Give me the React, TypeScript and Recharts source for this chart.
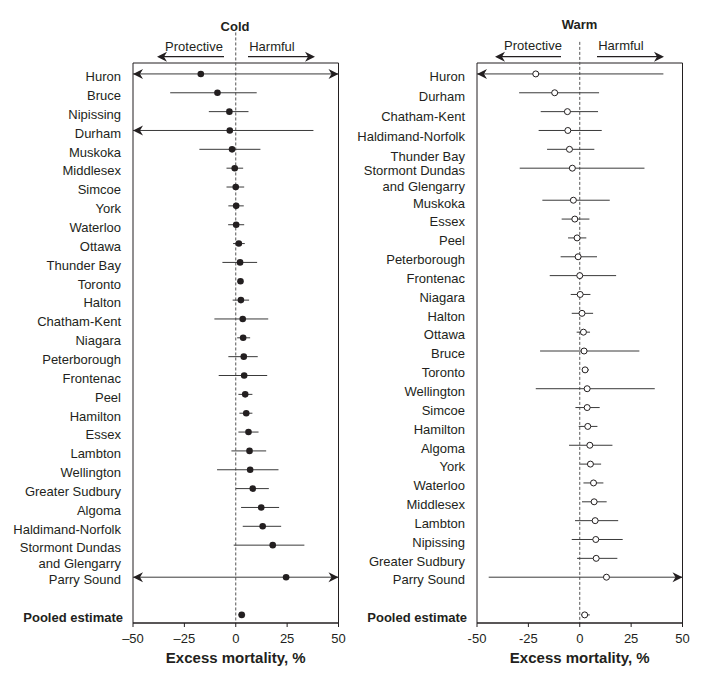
/** Forest plot — excess mortality by Ontario region, cold vs warm */
import { ScatterChart, Scatter, ErrorBar, XAxis, YAxis, ReferenceLine, ReferenceArea, Label } from 'recharts'

const FONT = '"Liberation Sans", Arial, Helvetica, sans-serif'
const INK = '#231f20'
const LINE = '#3a3a3a'

// values beyond ±50 are off-scale and drawn as arrows
const coldRegions = [
  'Huron', 'Bruce', 'Nipissing', 'Durham', 'Muskoka', 'Middlesex', 'Simcoe', 'York', 'Waterloo',
  'Ottawa', 'Thunder Bay', 'Toronto', 'Halton', 'Chatham-Kent', 'Niagara', 'Peterborough',
  'Frontenac', 'Peel', 'Hamilton', 'Essex', 'Lambton', 'Wellington', 'Greater Sudbury', 'Algoma',
  'Haldimand-Norfolk', 'Stormont Dundas\nand Glengarry', 'Parry Sound', 'Pooled estimate',
]
const coldEstimate = [
  -17.0, -8.9, -3.1, -2.9, -1.8, -0.5, 0.0, 0.2, 0.2, 1.5, 2.1, 2.3, 2.5, 3.4, 3.6, 3.9,
  4.1, 4.6, 5.1, 6.2, 6.7, 7.0, 8.3, 12.4, 13.1, 18.0, 24.5, 2.9,
]
const coldLower = [
  -60, -31.9, -13.1, -60, -17.7, -4.5, -4.5, -3.6, -3.7, -1.3, -6.5, 1.3, -1.5, -10.4, 0.7, -3.6,
  -8.3, 1.3, 1.8, 1.3, -2.1, -9.1, 0.0, 2.6, 3.4, -1.0, -60, 1.2,
]
const coldUpper = [
  60, 10.2, 6.2, 37.8, 12.0, 3.6, 4.1, 3.9, 4.1, 4.4, 10.4, 3.5, 6.5, 15.8, 7.0, 10.7,
  15.3, 8.1, 8.1, 11.1, 14.8, 20.8, 16.1, 21.1, 22.1, 33.4, 60, 4.6,
]

const warmRegions = [
  'Huron', 'Durham', 'Chatham-Kent', 'Haldimand-Norfolk', 'Thunder Bay', 'Stormont Dundas\nand Glengarry',
  'Muskoka', 'Essex', 'Peel', 'Peterborough', 'Frontenac', 'Niagara', 'Halton', 'Ottawa', 'Bruce',
  'Toronto', 'Wellington', 'Simcoe', 'Hamilton', 'Algoma', 'York', 'Waterloo', 'Middlesex', 'Lambton',
  'Nipissing', 'Greater Sudbury', 'Parry Sound', 'Pooled estimate',
]
const warmEstimate = [
  -21.4, -12.2, -6.0, -5.8, -5.0, -3.6, -3.1, -2.4, -1.3, -0.8, 0.0, 0.2, 1.1, 1.8, 2.1,
  2.6, 3.6, 3.6, 3.9, 4.9, 5.2, 6.7, 7.0, 7.5, 7.8, 8.0, 13.0, 2.4,
]
const warmLower = [
  -60, -29.5, -19.0, -20.0, -15.9, -29.2, -18.2, -8.8, -5.7, -9.3, -14.6, -4.4, -3.9, -1.5, -19.3,
  1.1, -21.4, -2.1, -0.5, -5.2, 0.2, 1.8, 1.1, -2.3, -3.9, -1.3, -44.3, 0.6,
]
const warmUpper = [
  40.7, 9.4, 8.9, 10.7, 7.1, 31.5, 14.6, 4.7, 3.2, 8.4, 17.7, 5.2, 6.5, 5.0, 29.0,
  4.5, 36.5, 9.7, 8.6, 15.9, 10.4, 11.5, 13.1, 18.7, 20.9, 18.3, 60, 4.9,
]

const xTicks = [-50, -25, 0, 25, 50]
const X_MIN = -50
const X_MAX = 50
const Y_MIN = -0.58
const Y_MAX = 29.13

interface Row {
  name: string
  x: number
  y: number
  lo: number
  hi: number
  err: [number, number]
}

function buildRows(names: string[], est: number[], lo: number[], hi: number[]): Row[] {
  let y = 0
  return names.map((name, i) => {
    if (name === 'Pooled estimate') y += 1
    const row: Row = {
      name,
      x: est[i],
      y,
      lo: lo[i],
      hi: hi[i],
      err: [est[i] - Math.max(lo[i], X_MIN), Math.min(hi[i], X_MAX) - est[i]],
    }
    y += name.includes('\n') ? 1.7 : 1
    return row
  })
}

function buildArrows(rows: Row[]) {
  return rows.flatMap(r => [
    ...(r.lo < X_MIN ? [{ x: X_MIN, y: r.y, dir: -1 }] : []),
    ...(r.hi > X_MAX ? [{ x: X_MAX, y: r.y, dir: 1 }] : []),
  ])
}

function arrowPath(tx: number, ty: number, dir: number) {
  return `M${tx},${ty} L${tx - dir * 10},${ty - 5} L${tx - dir * 7},${ty} L${tx - dir * 10},${ty + 5} Z`
}

// eslint-disable-next-line @typescript-eslint/no-explicit-any
const FilledDot = (p: any) => <circle cx={p.cx} cy={p.cy} r={3.3} fill={INK} />
// eslint-disable-next-line @typescript-eslint/no-explicit-any
const OpenDot = (p: any) => <circle cx={p.cx} cy={p.cy} r={3} fill="#fff" stroke={INK} strokeWidth={1} />
// eslint-disable-next-line @typescript-eslint/no-explicit-any
const CiArrow = (p: any) => <path d={arrowPath(p.cx, p.cy, p.payload.dir)} fill={INK} />

// eslint-disable-next-line @typescript-eslint/no-explicit-any
function RegionTick({ x, y, payload, rows, nudge }: any) {
  const row = (rows as Row[]).find(r => Math.abs(r.y - payload.value) < 0.01)
  if (!row) return null
  const bold = row.name === 'Pooled estimate'
  const tx = x + (bold ? 2 : 0)
  const lines = row.name.split('\n')
  return (
    <text
      x={tx}
      y={y + 7.3 + (nudge[row.name] ?? 0)}
      textAnchor="end"
      fontFamily={FONT}
      fontSize={13}
      fontWeight={bold ? 'bold' : 'normal'}
      fill={INK}
    >
      {lines.map((l, i) => (
        <tspan key={i} x={tx} dy={i === 0 ? 0 : 16}>{l}</tspan>
      ))}
    </text>
  )
}

interface PanelProps {
  rows: Row[]
  left: number
  width: number
  open: boolean
  dashTop: number
  minus: string
  nudge: Record<string, number>
}

function Panel({ rows, left, width, open, dashTop, minus, nudge }: PanelProps) {
  const arrows = buildArrows(rows)
  return (
    <div style={{ position: 'absolute', left, top: 0 }}>
      <ScatterChart width={width} height={683} margin={{ top: 63, right: width - 133 - 205.5, bottom: 0, left: 0 }}>
        <XAxis
          type="number"
          dataKey="x"
          domain={[X_MIN, X_MAX]}
          ticks={xTicks}
          allowDataOverflow
          height={60}
          tickSize={4}
          tickMargin={7}
          tickFormatter={(v: number) => (v < 0 ? `${minus}${-v}` : `${v}`)}
          tick={{ fill: INK, fontSize: 13, fontFamily: FONT }}
          axisLine={{ stroke: INK }}
          tickLine={{ stroke: INK }}
        >
          <Label
            value="Excess mortality, %"
            position="insideBottom"
            offset={20}
            style={{ fill: INK, fontSize: 15, fontWeight: 'bold', fontFamily: FONT }}
          />
        </XAxis>
        <YAxis
          type="number"
          dataKey="y"
          domain={[Y_MIN, Y_MAX]}
          reversed
          allowDataOverflow
          ticks={rows.map(r => r.y)}
          interval={0}
          width={133}
          axisLine={false}
          tickLine={false}
          tickSize={0}
          tickMargin={12}
          tick={(p: object) => <RegionTick {...p} rows={rows} nudge={nudge} />}
        />
        <ReferenceArea
          x1={X_MIN}
          x2={X_MAX}
          y1={Y_MIN}
          y2={Y_MAX}
          fill="none"
          fillOpacity={0}
          stroke={INK}
          strokeWidth={1}
          ifOverflow="visible"
        />
        <ReferenceLine
          segment={[{ x: 0, y: dashTop }, { x: 0, y: Y_MAX }]}
          stroke="#555"
          strokeDasharray="3 2"
          ifOverflow="visible"
        />
        <Scatter data={arrows} shape={CiArrow} isAnimationActive={false} />
        <Scatter data={rows} shape={open ? OpenDot : FilledDot} isAnimationActive={false}>
          <ErrorBar dataKey="err" direction="x" width={0} stroke={LINE} strokeWidth={1} />
        </Scatter>
      </ScatterChart>
    </div>
  )
}

function HeadArrow({ x1, x2, y }: { x1: number; x2: number; y: number }) {
  const dir = Math.sign(x2 - x1)
  return (
    <g>
      <line x1={x1} x2={x2 - dir * 7} y1={y} y2={y} stroke={INK} strokeWidth={1.2} />
      <path d={arrowPath(x2, y, dir)} fill={INK} />
    </g>
  )
}

function Header() {
  const txt = { fontFamily: FONT, fontSize: 13, fill: INK, textAnchor: 'middle' as const }
  return (
    <svg width={723} height={683} style={{ position: 'absolute', left: 0, top: 0, pointerEvents: 'none' }}>
      <text x={235} y={31} {...txt} fontWeight="bold">Cold</text>
      <text x={194} y={51.3} {...txt}>Protective</text>
      <text x={272} y={51.3} {...txt}>Harmful</text>
      <HeadArrow x1={224} x2={157} y={56.7} />
      <HeadArrow x1={248} x2={315} y={56.7} />

      <text x={579.5} y={28.5} {...txt} fontWeight="bold">Warm</text>
      <text x={533} y={50.4} {...txt}>Protective</text>
      <text x={621} y={50.4} {...txt}>Harmful</text>
      <HeadArrow x1={561} x2={495} y={56.7} />
      <HeadArrow x1={597} x2={664} y={56.7} />
    </svg>
  )
}

const warmNudge: Record<string, number> = {
  Durham: 1,
  'Chatham-Kent': 2.3,
  'Haldimand-Norfolk': 3.3,
  'Thunder Bay': 4.7,
  'Stormont Dundas\nand Glengarry': -0.5,
}

export default function App() {
  const coldRows = buildRows(coldRegions, coldEstimate, coldLower, coldUpper)
  const warmRows = buildRows(warmRegions, warmEstimate, warmLower, warmUpper)
  return (
    <div style={{ position: 'absolute', left: 0, top: 0, width: 723, height: 683, background: '#fff' }}>
      <Panel rows={coldRows} left={0} width={350} open={false} dashTop={-2.2} minus={'\u2013'} nudge={{}} />
      <Panel rows={warmRows} left={344} width={379} open dashTop={-1.7} minus="-" nudge={warmNudge} />
      <Header />
    </div>
  )
}
